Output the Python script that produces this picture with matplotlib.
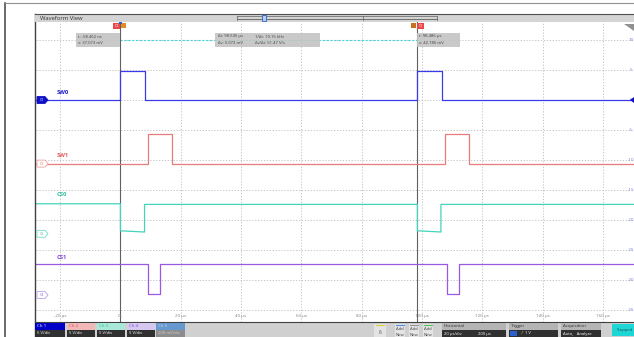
import matplotlib
matplotlib.use('Agg')
import matplotlib.pyplot as plt
from matplotlib.patches import Rectangle, Polygon

plt.rcParams['font.family'] = ['Open Sans', 'DejaVu Sans']

# 波形数据（时间 µs，屏幕电压 V）
sw0_t = [-28, 0, 0, 8.1, 8.1, 98.5, 98.5, 106.5, 106.5, 171]
sw0_v = [0.0, 0.0, 4.9, 4.9, 0.0, 0.0, 4.9, 4.9, 0.0, 0.0]
sw1_t = [-28, 9.0, 9.0, 17.0, 17.0, 107.5, 107.5, 115.5, 115.5, 171]
sw1_v = [-10.6, -10.6, -5.6, -5.6, -10.6, -10.6, -5.6, -5.6, -10.6, -10.6]
cs0_t = [-28, 0, 0, 8.0, 8.0, 98.5, 98.5, 106.3, 106.3, 171]
cs0_v = [-17.3, -17.3, -21.8, -22.0, -17.4, -17.4, -21.8, -22.0, -17.4, -17.4]
cs1_t = [-28, 9.2, 9.2, 13.0, 13.0, 108.2, 108.2, 112.2, 112.2, 171]
cs1_v = [-27.3, -27.3, -32.3, -32.3, -27.3, -27.3, -32.3, -32.3, -27.3, -27.3]

trace_names = ['SW0', 'SW1', 'CS0', 'CS1']
trace_colors = ['#3a3ae8', '#e87c7c', '#44d4bc', '#9858e4']
label_colors = ['#1c1cc8', '#e05858', '#30bca4', '#8040d8']
ch_offsets = [0.0, -10.6, -22.3, -32.5]
label_v = [1.2, -9.2, -15.8, -26.2]

time_ticks = [-20, 0, 20, 40, 60, 80, 100, 120, 140, 160]
time_labels = ['-20 µs', '0s', '20 µs', '40 µs', '60 µs', '80 µs', '100 µs', '120 µs', '140 µs', '160 µs']
volt_ticks = [10, 5, 0, -5, -10, -15, -20, -25, -30, -35]

cursor_t = [-0.058, 98.486]

W, H = 634, 337
fig = plt.figure(figsize=(W / 100, H / 100), dpi=100)
fig.patch.set_facecolor('white')

# 主波形区
px_per_us = 3.015
ax = fig.add_axes([36 / W, 15 / H, 598 / W, 300 / H])
ax.set_xlim(-28, -28 + 598 / px_per_us)
ax.set_ylim(-37, 13)
ax.set_facecolor('white')
for s in ax.spines.values():
    s.set_visible(False)
ax.set_xticks([])
ax.set_yticks([])

for t in time_ticks:
    ax.axvline(t, color='#bcbcbc', lw=0.6, ls=(0, (1.5, 2)), zorder=1)
for v in volt_ticks:
    ax.axhline(v, color='#bcbcbc', lw=0.6, ls=(0, (1.5, 2)), zorder=1)

# 光标之间的水平虚线
ax.plot(cursor_t, [10, 10], color='#40d8d8', lw=0.8, ls=(0, (2, 1.5)), zorder=2)
for t in cursor_t:
    ax.axvline(t, color='#606060', lw=0.8, zorder=2)

for tt, vv, c in zip([sw0_t, sw1_t, cs0_t, cs1_t], [sw0_v, sw1_v, cs0_v, cs1_v], trace_colors):
    ax.plot(tt, vv, color=c, lw=0.9, zorder=3)

for name, c, v in zip(trace_names, label_colors, label_v):
    ax.text(-21, v, name, color=c, fontsize=4.2, fontweight='bold', ha='left', va='center', zorder=4)

for t, lab in zip(time_ticks, time_labels):
    ax.text(t, -36.0, lab, color='#808080', fontsize=3.2, ha='center', va='center', zorder=4)
for v in volt_ticks:
    ax.text(169.3, v, str(v), color='#7a7ad8', fontsize=3.2, ha='center', va='center', zorder=4)

# 覆盖层（像素坐标）
ov = fig.add_axes([0, 0, 1, 1])
ov.set_xlim(0, W)
ov.set_ylim(H, 0)
ov.axis('off')
ov.patch.set_alpha(0)


def box(x0, y0, x1, y1, fc, ec='none', lw=0.0, alpha=1.0, z=5):
    ov.add_patch(Rectangle((x0, y0), x1 - x0, y1 - y0, facecolor=fc, edgecolor=ec, lw=lw, alpha=alpha, zorder=z))


# 外框
ov.plot([5, 5], [3, H], color='#505050', lw=1.2)
ov.plot([5, W], [3, 3], color='#909090', lw=0.8)
ov.plot([35, 35], [14, H], color='#404040', lw=1.0)

# Waveform View 标题栏
box(35, 14, W, 22, '#d4d4d4')
ov.plot([35, W], [14, 14], color='#505050', lw=0.8, zorder=6)
ov.text(40, 18.2, 'Waveform View', fontsize=4.2, color='#303030', va='center', ha='left', zorder=6)
ov.plot([237, 437], [19, 19], color='#606060', lw=0.6, zorder=6)
ov.plot([237, 437], [15.5, 15.5], color='#606060', lw=0.5, zorder=6)
ov.plot([237, 237], [15.5, 20], color='#606060', lw=0.5, zorder=6)
ov.plot([437, 437], [15.5, 20], color='#606060', lw=0.5, zorder=6)
ov.plot([363, 363], [15.5, 20], color='#606060', lw=0.5, zorder=6)
box(262, 15, 266, 21, '#b8ccf0', ec='#2a60c8', lw=0.6, z=7)

# 光标标记
box(113, 22.5, 120, 29, '#e84848', z=7)
ov.text(116.5, 25.8, 'C2', fontsize=2.6, color='white', ha='center', va='center', zorder=8)
box(121, 22.5, 125.5, 28, '#e08a28', z=7)
box(118.5, 22, 121.5, 24, '#2a60c8', z=7)
box(411, 22.5, 415.5, 28, '#c8701c', z=7)
box(417, 22.5, 424, 29, '#e84848', z=7)
ov.text(420.5, 25.8, 'C2', fontsize=2.6, color='white', ha='center', va='center', zorder=8)
ov.add_patch(Polygon([[624, 24], [634, 24], [634, 31]], closed=True, facecolor='#909090', zorder=7))

# 光标读数框
box(76, 32.5, 120, 47, '#c4c4c4', alpha=0.9)
ov.text(78, 36.5, 't: -58.462 ns', fontsize=3.0, color='#404040', va='center', zorder=6)
ov.text(78, 42.5, 'v: 37.073 mV', fontsize=3.0, color='#404040', va='center', zorder=6)
box(215, 32.5, 320, 47, '#c4c4c4', alpha=0.9)
ov.text(218, 36.5, 'Δt: 98.545 µs', fontsize=3.0, color='#404040', va='center', zorder=6)
ov.text(255, 36.5, '1/Δt: 10.15 kHz', fontsize=3.0, color='#404040', va='center', zorder=6)
ov.text(218, 42.5, 'Δv: 5.072 mV', fontsize=3.0, color='#404040', va='center', zorder=6)
ov.text(255, 42.5, 'Δv/Δt: 51.47 V/s', fontsize=3.0, color='#404040', va='center', zorder=6)
box(417, 32.5, 460, 47, '#c4c4c4', alpha=0.9)
ov.text(419, 36.5, 't: 98.486 µs', fontsize=3.0, color='#404040', va='center', zorder=6)
ov.text(419, 42.5, 'v: 42.186 mV', fontsize=3.0, color='#404040', va='center', zorder=6)

# 通道接地标记
ch_px = [100 - v * 6 for v in ch_offsets]
ch_fill = ['#1010c8', 'white', 'white', 'white']
ch_edge = ['#1010c8', '#f0a0a0', '#70dcc8', '#b8a0ec']
ch_txt = ['white', '#e07070', '#40c0a8', '#9060d8']
for i, y in enumerate(ch_px):
    ov.add_patch(Polygon([[37, y - 3.5], [45, y - 3.5], [48, y], [45, y + 3.5], [37, y + 3.5]],
                         closed=True, facecolor=ch_fill[i], edgecolor=ch_edge[i], lw=0.6, zorder=7))
    ov.text(41.5, y, 'C%d' % (i + 1), fontsize=2.6, color=ch_txt[i], ha='center', va='center', zorder=8)
ov.add_patch(Polygon([[630, 100], [634, 97], [634, 103]], closed=True, facecolor='#1010c8', zorder=7))

# 底部状态栏
box(35, 322, W, H, '#d0d0d0')
ov.plot([35, W], [322, 322], color='#404040', lw=0.8, zorder=6)
ch_boxes = [(35, 65), (67, 95), (97, 125), (127, 155), (156, 185)]
ch_top = ['#0000c8', '#f2b8b8', '#a8e8d8', '#d4c8f0', '#6898d0']
ch_top_txt = ['white', '#e04848', '#30b89c', '#8848d8', '#c8dcf4']
ch_bot = ['#303030', '#303030', '#303030', '#303030', '#8c8c8c']
ch_bot_txt = ['5 V/div', '5 V/div', '5 V/div', '5 V/div', '200 mV/div']
for i, (x0, x1) in enumerate(ch_boxes):
    box(x0, 323, x1, 329.5, ch_top[i], z=6)
    box(x0, 329.5, x1, H, ch_bot[i], z=6)
    ov.text(x0 + 2, 326.3, 'Ch %d' % (i + 1), fontsize=3.2, color=ch_top_txt[i], va='center', zorder=7)
    ov.text(x0 + 2, 333.5, ch_bot_txt[i], fontsize=3.0, color='white' if i < 4 else '#d0d0d0', va='center', zorder=7)

box(374, 324, 386, H, '#e4e4e4', z=6)
ov.plot([376, 384], [325, 325], color='#d8d040', lw=0.8, zorder=7)
ov.text(380, 332.5, '6', fontsize=3.4, color='#404040', ha='center', va='center', zorder=7)
for x0, c in zip([395, 409, 423], ['#5a8ae0', '#909090', '#50c050']):
    box(x0, 324, x0 + 10, H, '#e4e4e4', z=6)
    ov.plot([x0 + 1, x0 + 9], [325, 325], color=c, lw=0.8, zorder=7)
    ov.text(x0 + 5, 329.5, 'Add', fontsize=3.0, color='#404040', ha='center', va='center', zorder=7)
    ov.text(x0 + 5, 335.5, 'New', fontsize=3.0, color='#404040', ha='center', va='center', zorder=7)

for (x0, x1, title) in [(442, 506, 'Horizontal'), (509, 558, 'Trigger'), (561, 601, 'Acquisition')]:
    box(x0, 323, x1, 329.5, '#b4b4b4', z=6)
    box(x0, 329.5, x1, H, '#303030', z=6)
    ov.text(x0 + 2, 326.3, title, fontsize=3.2, color='#303030', va='center', zorder=7)
ov.text(444, 333.5, '20 µs/div', fontsize=3.0, color='white', va='center', zorder=7)
ov.text(478, 333.5, '200 µs', fontsize=3.0, color='white', va='center', zorder=7)
box(510, 331, 517, 336, '#2a60d0', z=7)
ov.text(522, 333.5, '⁄   1 V', fontsize=3.0, color='white', va='center', zorder=7)
ov.text(563, 333.5, 'Auto,   Analyze', fontsize=3.0, color='white', va='center', zorder=7)
box(612, 324, W, 336, '#1ed6d6', z=6)
ov.text(617, 329.5, 'Stopped', fontsize=3.0, color='#205050', va='center', zorder=7)

fig.savefig('out.png', dpi=100)
